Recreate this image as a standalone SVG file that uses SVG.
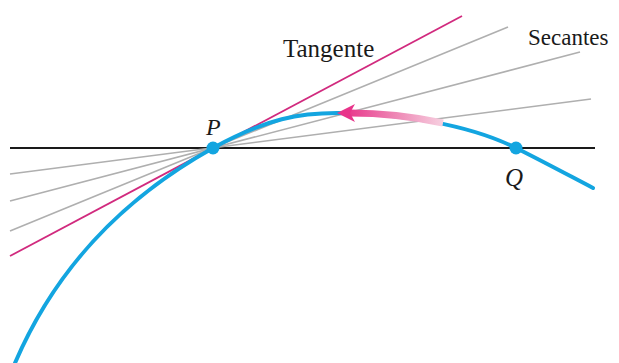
<svg xmlns="http://www.w3.org/2000/svg" width="619" height="363" viewBox="0 0 619 363">
<style>
.sec{stroke:#AFAFAF;stroke-width:1.6;fill:none}
.tan{stroke:#D12A7E;stroke-width:1.8;fill:none}
.axis{stroke:#1a1a1a;stroke-width:2;fill:none}
.curve{stroke:#13A5E0;stroke-width:4;fill:none;stroke-linecap:round}
.dot{fill:#13A5E0}
.lbl{font-family:"Liberation Serif",serif;fill:#1a1a1a}
.it{font-style:italic}
</style>
<defs>
<linearGradient id="g" gradientUnits="userSpaceOnUse" x1="445" y1="0" x2="345" y2="0">
<stop offset="0" stop-color="#F7D3E2"/>
<stop offset="0.5" stop-color="#EE86B4"/>
<stop offset="1" stop-color="#E8348A"/>
</linearGradient>
</defs>
<g id="connectors">
<line class="axis" x1="10" y1="148" x2="595" y2="148"/>
<line class="sec" x1="10" y1="231" x2="508" y2="27"/>
<line class="sec" x1="10" y1="201" x2="580" y2="52"/>
<line class="sec" x1="10" y1="174" x2="591" y2="99"/>
<line class="tan" x1="10" y1="256" x2="462" y2="16"/>
<path class="curve" d="M15,363 C55,270 120,200 213,148 C268,118 300,113 337,113 C400,113 470,125 516,148 C546,163 570,176 593,188"/>
<path d="M443,123 C410,116 385,113 350,113" stroke="url(#g)" stroke-width="7" fill="none"/>
<path d="M337,113 L355,104 L350,113 L355,122 Z" fill="#E8348A"/>
</g>
<g id="P">
<circle class="dot" cx="213" cy="148" r="6.5"/>
<text class="lbl it" x="206" y="135" font-size="24">P</text>
</g>
<g id="Q">
<circle class="dot" cx="516" cy="148" r="6.5"/>
<text class="lbl it" x="505" y="186" font-size="25">Q</text>
</g>
<g id="labels">
<text class="lbl" x="283" y="57" font-size="25">Tangente</text>
<text class="lbl" x="528" y="45" font-size="23">Secantes</text>
</g>
</svg>
